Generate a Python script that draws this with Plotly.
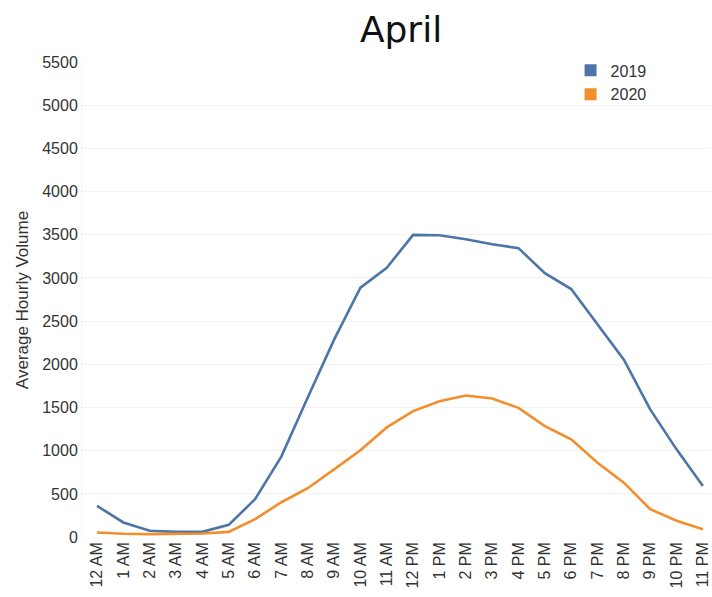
import plotly.graph_objects as go

hours = ["12 AM", "1 AM", "2 AM", "3 AM", "4 AM", "5 AM", "6 AM", "7 AM",
         "8 AM", "9 AM", "10 AM", "11 AM", "12 PM", "1 PM", "2 PM", "3 PM",
         "4 PM", "5 PM", "6 PM", "7 PM", "8 PM", "9 PM", "10 PM", "11 PM"]

volume_2019 = [362, 170, 73, 61, 61, 142, 439, 935, 1617, 2286, 2887, 3118,
               3499, 3495, 3449, 3391, 3345, 3056, 2872, 2460, 2055, 1478, 1016, 593]

volume_2020 = [54, 40, 35, 35, 42, 61, 208, 404, 566, 785, 1005, 1270,
               1459, 1574, 1640, 1605, 1497, 1286, 1132, 862, 631, 323, 189, 92]

y_ticks = [0, 500, 1000, 1500, 2000, 2500, 3000, 3500, 4000, 4500, 5000, 5500]

series = [("2019", volume_2019, "#4e75a8"), ("2020", volume_2020, "#f28e2b")]

fig = go.Figure()
for name, values, color in series:
    fig.add_trace(go.Scatter(
        x=hours, y=values, mode="lines", name=name, legendgroup=name,
        line=dict(color=color, width=2.6), showlegend=False,
    ))
    # square swatch for the legend
    fig.add_trace(go.Scatter(
        x=[None], y=[None], mode="markers", name=name, legendgroup=name,
        marker=dict(symbol="square", size=11, color=color),
    ))

fig.update_layout(
    width=712, height=597,
    margin=dict(l=82, r=2, t=62, b=59),
    paper_bgcolor="white", plot_bgcolor="white",
    font=dict(family="Liberation Sans, Arial, sans-serif", color="#333333"),
    title=dict(text="April", x=0.508, xref="paper", xanchor="center",
               y=0.95, yref="container", yanchor="middle",
               font=dict(family="DejaVu Sans, sans-serif", size=36, color="#111111")),
    legend=dict(x=0.778, xanchor="left", y=1.018, yanchor="top",
                bgcolor="rgba(0,0,0,0)", font=dict(size=16, color="#333333"),
                itemsizing="constant", itemwidth=30, tracegroupgap=0),
    xaxis=dict(type="category", range=[-0.57, 23.27], tickangle=-90,
               tickfont=dict(size=16, color="#333333"), showgrid=False,
               showline=False, zeroline=False, ticks=""),
    yaxis=dict(range=[-10, 5500], tickvals=y_ticks,
               tickfont=dict(size=16, color="#333333"),
               gridcolor="#f2f2f2", gridwidth=1, zeroline=False,
               showline=True, linecolor="#f2f2f2", ticks="",
               title=dict(text="Average Hourly Volume", standoff=9,
                          font=dict(size=17, color="#333333"))),
)

fig.write_html("out.html")
